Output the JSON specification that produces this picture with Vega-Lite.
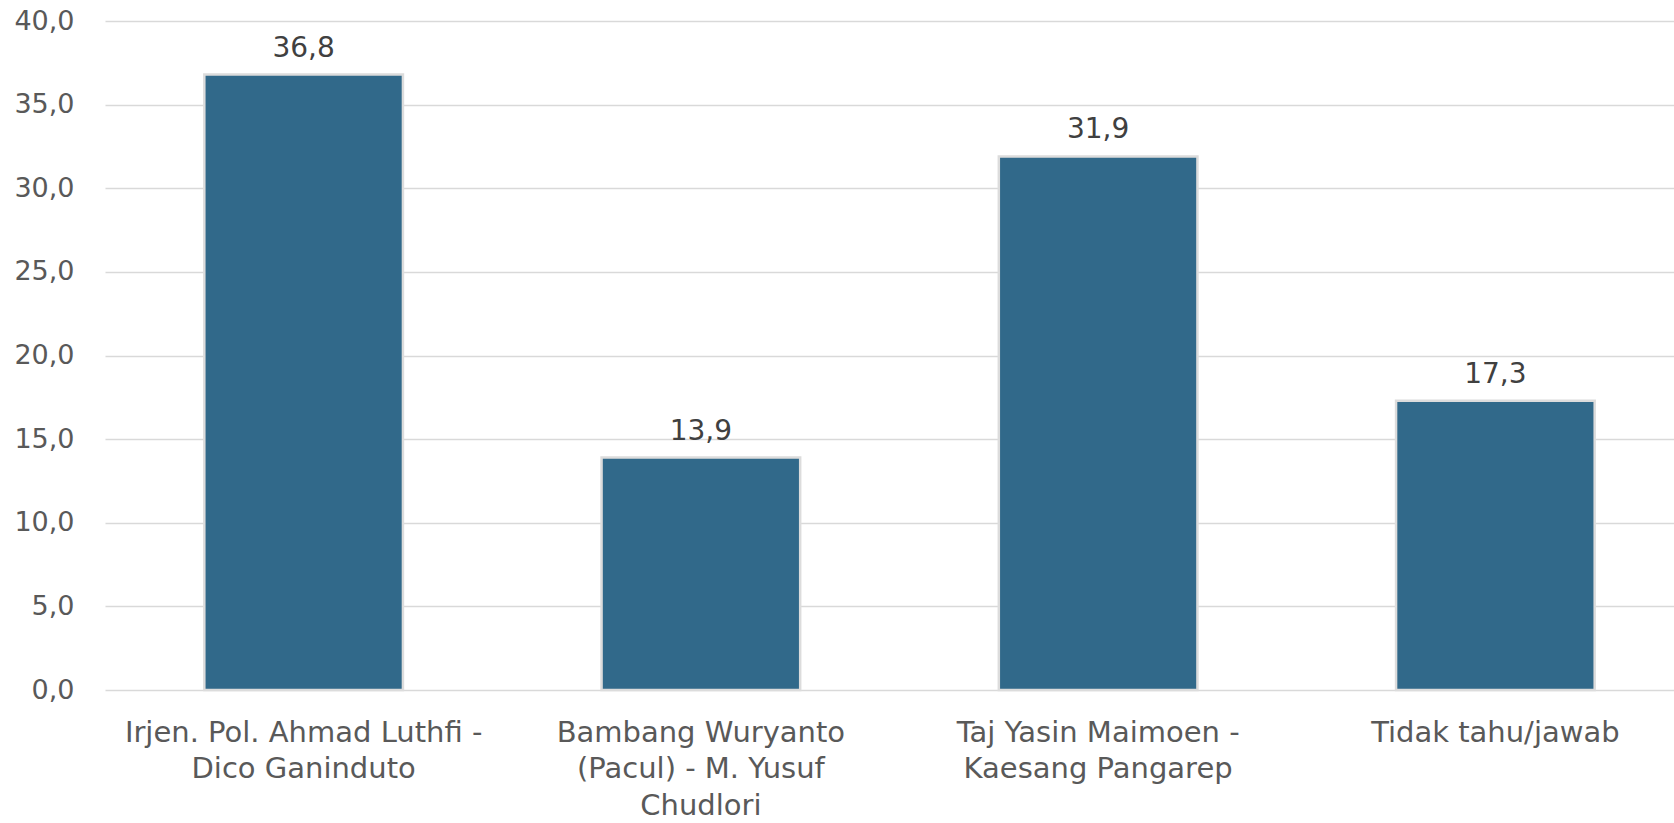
{
  "$schema": "https://vega.github.io/schema/vega-lite/v6.json",
  "autosize": {"type": "none"},
  "padding": {"left": 105, "top": 21, "right": 0, "bottom": 133},
  "width": 1589,
  "height": 669,
  "background": "white",
  "config": {
    "locale": {"number": {"decimal": ",", "thousands": ".", "grouping": [3], "currency": ["", ""]}},
    "view": {"stroke": null},
    "font": "DejaVu Sans"
  },
  "data": {
    "values": [
      {"label": "Irjen. Pol. Ahmad Luthfi -|Dico Ganinduto", "value": 36.8},
      {"label": "Bambang Wuryanto|(Pacul) - M. Yusuf|Chudlori", "value": 13.9},
      {"label": "Taj Yasin Maimoen -|Kaesang Pangarep", "value": 31.9},
      {"label": "Tidak tahu/jawab", "value": 17.3}
    ]
  },
  "encoding": {
    "x": {
      "field": "label", "type": "nominal", "sort": null,
      "scale": {"paddingInner": 0.5, "paddingOuter": 0.25},
      "axis": {
        "title": null, "labelAngle": 0, "domain": false, "ticks": false,
        "labelExpr": "split(datum.label, '|')",
        "labelFontSize": 29, "labelColor": "#595959", "labelPadding": 28,
        "labelLineHeight": 36.5, "labelFont": "DejaVu Sans", "labelFontWeight": "normal",
        "labelLimit": 420, "labelOverlap": false
      }
    },
    "y": {
      "field": "value", "type": "quantitative",
      "scale": {"domain": [0, 40]},
      "axis": {
        "title": null, "values": [0, 5, 10, 15, 20, 25, 30, 35, 40], "format": ".1f",
        "domain": false, "ticks": false, "grid": true, "gridColor": "#d9d9d9", "gridWidth": 1.5,
        "labelFontSize": 27, "labelColor": "#595959", "labelPadding": 31,
        "labelFont": "DejaVu Sans"
      }
    }
  },
  "layer": [
    {"mark": {"type": "bar", "color": "#31698A", "stroke": "#dcdcdc", "strokeWidth": 2.5}},
    {
      "mark": {"type": "text", "baseline": "bottom", "dy": -12, "fontSize": 28, "color": "#404040", "font": "DejaVu Sans"},
      "encoding": {"text": {"field": "value", "type": "quantitative", "format": ".1f"}}
    }
  ]
}
